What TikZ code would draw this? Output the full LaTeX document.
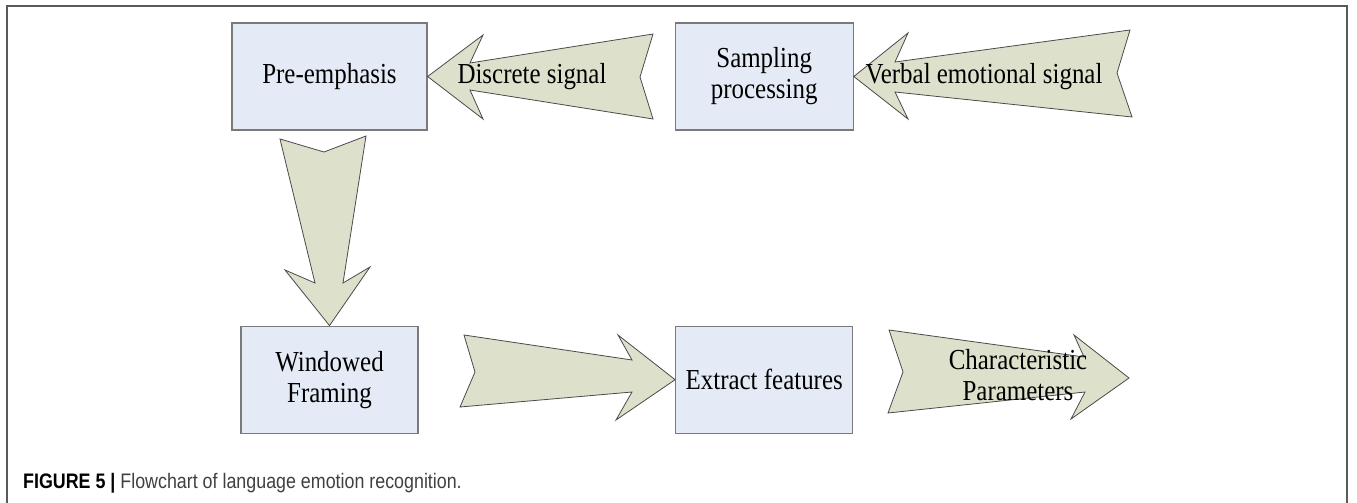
\documentclass[tikz,border=0pt]{standalone}
\usepackage{fontspec}
\setmainfont[FakeStretch=0.86]{Liberation Serif}
\newfontfamily\capfont[FakeStretch=0.85]{Liberation Sans}
\usepackage{xcolor}
\definecolor{BoxBlue}{HTML}{E4EBF6}
\definecolor{BoxLine}{HTML}{7A7A7A}
\definecolor{ArrowKhaki}{HTML}{DDE1CB}
\definecolor{ArrowLine}{HTML}{4A4A4A}
\definecolor{FrameGray}{HTML}{5A5A5A}
\usepackage{tikz}
\usetikzlibrary{positioning}

\begin{document}
\begin{tikzpicture}[
  x=1pt, y=-1pt,
  box/.style={draw=BoxLine, fill=BoxBlue, line width=1.2pt, minimum height=107pt, inner sep=0pt, align=center, font=\fontsize{29}{31}\selectfont},
  blockarrow/.style={draw=ArrowLine, fill=ArrowKhaki, line width=0.8pt, line join=miter},
  lbl/.style={inner sep=0pt, align=center, font=\fontsize{29}{31}\selectfont},
]
\useasboundingbox (0,0) rectangle (1357,503);
\draw[FrameGray, line width=1.3pt] (7,503) -- (7,6) -- (1347,6) -- (1347,503);

\node[box, minimum width=195pt] (pre) at (329.5,76.5) {Pre-emphasis};
\node[box, minimum width=178pt, right=247pt of pre] (samp) {Sampling\\processing};
\node[box, minimum width=177pt, below=195pt of pre] (win) {Windowed\\Framing};
\node[box, minimum width=177pt, below=195pt of samp] (extr) {Extract features};
\coordinate (out) at (1129,378);

% block arrows with their labels
\draw[blockarrow] (pre.east) -- (483,35) -- (470,63) -- (653,34) -- (640,77) -- (653,119) -- (470,90) -- (483,119) -- cycle;
\node[lbl] (dsig) at (532,77) {Discrete signal};
\draw[blockarrow] (samp.east) -- (908,33) -- (895,62) -- (1130,30) -- (1117,73) -- (1132,117) -- (895,92) -- (908,119) -- cycle;
\node[lbl] (vsig) at (984,77) {Verbal emotional signal};
\draw[blockarrow] (win.north) -- (285,270) -- (315,283) -- (280,139) -- (324,152) -- (366,136) -- (343,283) -- (370,267) -- cycle;
\draw[blockarrow] (extr.west) -- (616,420) -- (632,392) -- (460,407) -- (475,372) -- (464,335) -- (632,360) -- (618,335) -- cycle;
\draw[blockarrow] (out) -- (1071,419) -- (1085,392) -- (888,413) -- (903,372) -- (889,330) -- (1084,357) -- (1074,335) -- cycle;
\node[lbl] (cpar) at (1018,375) {Characteristic\\Parameters};

\node[anchor=west, inner sep=0pt, font=\capfont\fontsize{21}{24}\selectfont] (cap) at (23,483) {\textbf{FIGURE 5 |} \color{black!75}Flowchart of language emotion recognition.};
\end{tikzpicture}
\end{document}
